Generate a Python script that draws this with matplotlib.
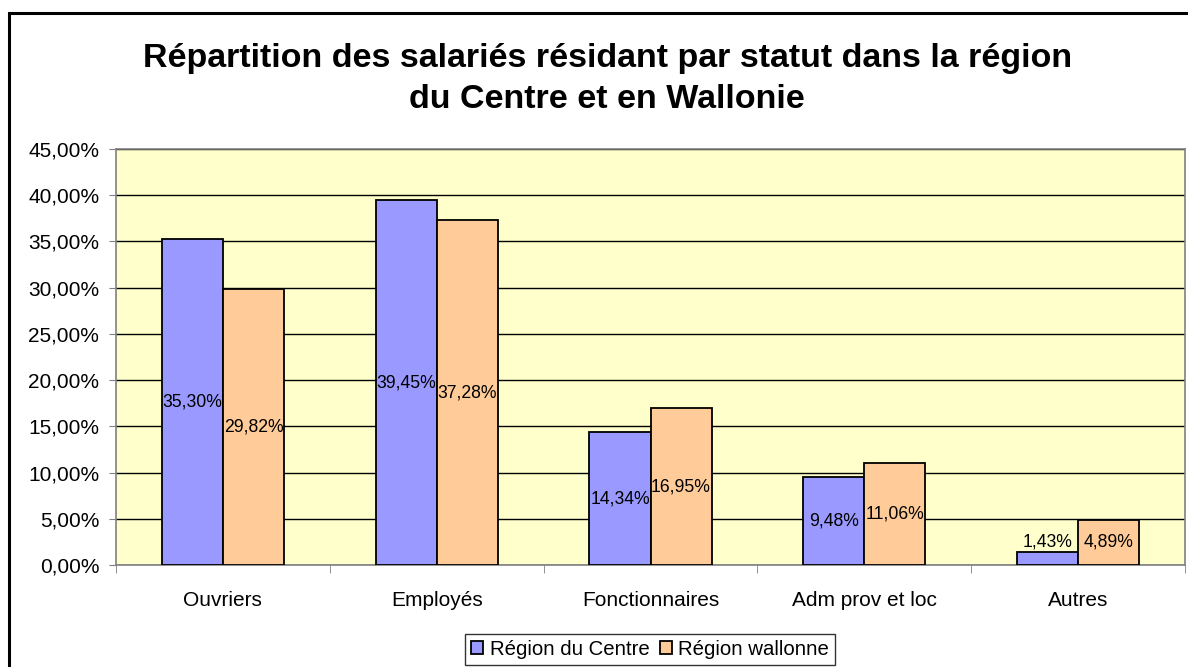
import matplotlib
matplotlib.use("Agg")
import matplotlib.pyplot as plt
import numpy as np
from matplotlib.patches import Rectangle
from matplotlib.ticker import FuncFormatter, MultipleLocator

plt.rcParams['font.family'] = ['Liberation Sans', 'DejaVu Sans']

categories = ["Ouvriers", "Employés", "Fonctionnaires", "Adm prov et loc", "Autres"]
centre = [35.30, 39.45, 14.34, 9.48, 1.43]
wallonne = [29.82, 37.28, 16.95, 11.06, 4.89]
series_names = ["Région du Centre", "Région wallonne"]
title = "Répartition des salariés résidant par statut dans la région\ndu Centre et en Wallonie"

W, H = 1188, 667
fig = plt.figure(figsize=(W / 100, H / 100), dpi=100)

# outer chart border
fig.patches.append(Rectangle((9 / W, -0.1), 1.2, 1 - 13 / H + 0.1, transform=fig.transFigure,
                             fill=False, edgecolor='black', linewidth=2.2, zorder=0))

left, right, top, bottom = 116, 1185, 149, 565
ax = fig.add_axes([left / W, 1 - bottom / H, (right - left) / W, (bottom - top) / H])
ax.set_facecolor('#FFFFCC')

x = np.arange(len(categories))
w = 1 / 3.5
b1 = ax.bar(x - w / 2, centre, w, color='#9999FF', edgecolor='black', linewidth=1.3, zorder=3,
            label=series_names[0])
b2 = ax.bar(x + w / 2, wallonne, w, color='#FFCC99', edgecolor='black', linewidth=1.3, zorder=3,
            label=series_names[1])

ax.set_xlim(-0.5, len(categories) - 0.5)
ax.set_ylim(0, 45)
ax.yaxis.set_major_locator(MultipleLocator(5))
ax.yaxis.set_major_formatter(FuncFormatter(lambda v, p: f"{v:.2f}".replace('.', ',') + "%"))
ax.grid(axis='y', color='black', linewidth=1.0, zorder=1)
ax.set_axisbelow(True)

ax.set_xticks(x)
ax.set_xticklabels(categories, fontsize=15)
ax.tick_params(axis='x', which='major', length=0, pad=19)
ax.set_xticks(np.arange(-0.5, len(categories)), minor=True)
ax.tick_params(axis='x', which='minor', length=6, color='#808080', direction='out')
ax.tick_params(axis='y', labelsize=15, length=5, color='#808080', pad=7)

for s in ax.spines.values():
    s.set_color('#808080')
    s.set_linewidth(1.2)

def fmt(v):
    return f"{v:.2f}".replace('.', ',') + "%"

for bars, vals in ((b1, centre), (b2, wallonne)):
    for rect, v in zip(bars, vals):
        ypos = max(v / 2, 2.45)
        ax.text(rect.get_x() + rect.get_width() / 2, ypos, fmt(v), ha='center', va='center',
                fontsize=12.7, zorder=4)

fig.text(0.511, 1 - 79 / H, title, ha='center', va='center', fontsize=24.5, fontweight='bold',
         linespacing=1.42)

leg = fig.legend(handles=[b1, b2], loc='upper center', bbox_to_anchor=(650 / W, 1 - 634 / H),
                 ncol=2, fontsize=14.7, frameon=True, fancybox=False, edgecolor='black',
                 handlelength=0.6, handleheight=0.6, handletextpad=0.3, columnspacing=0.5,
                 borderpad=0.3, borderaxespad=0)
leg.get_frame().set_linewidth(1.0)

fig.savefig("out.png", dpi=100)
